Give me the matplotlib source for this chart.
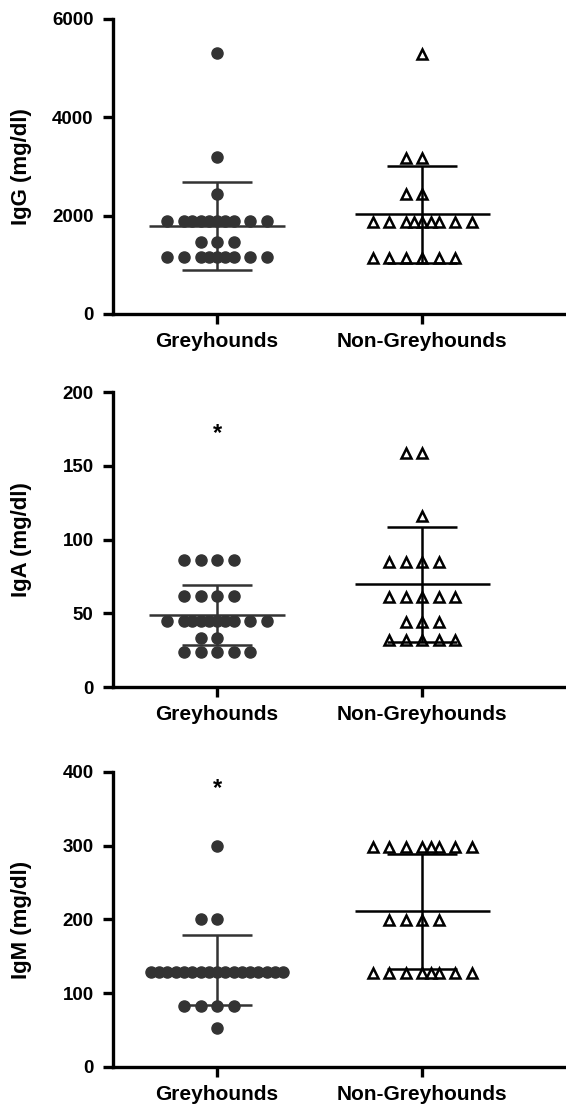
import matplotlib
matplotlib.use('Agg')
import matplotlib.pyplot as plt
import numpy as np

plt.rcParams['font.family'] = ['Liberation Sans', 'DejaVu Sans']
plt.rcParams['font.weight'] = 'bold'

# data (mg/dl)
groups = ['Greyhounds', 'Non-Greyhounds']

igg_grey = [5300, 3200, 2450,
            1900, 1900, 1900, 1900, 1900, 1900, 1900, 1900, 1900, 1900,
            1470, 1470, 1470,
            1150, 1150, 1150, 1150, 1150, 1150, 1150, 1150, 1150]
igg_nongrey = [5280, 3180, 3180, 2430, 2430,
               1870, 1870, 1870, 1870, 1870, 1870, 1870, 1870, 1870,
               1140, 1140, 1140, 1140, 1140, 1140]

iga_grey = [86, 86, 86, 86,
            62, 62, 62, 62,
            44.5, 44.5, 44.5, 44.5, 44.5, 44.5, 44.5, 44.5, 44.5, 44.5,
            33, 33,
            24, 24, 24, 24, 24]
iga_nongrey = [159, 159, 116,
               85, 85, 85, 85,
               61, 61, 61, 61, 61,
               44, 44, 44,
               32, 32, 32, 32, 32]

igm_grey = [300, 200, 200,
            129, 129, 129, 129, 129, 129, 129, 129, 129, 129, 129, 129, 129, 129, 129, 129, 129,
            83, 83, 83, 83,
            53]
igm_nongrey = [298, 298, 298, 298, 298, 298, 298, 298,
               199, 199, 199, 199,
               127, 127, 127, 127, 127, 127, 127, 127]

# mean and SD drawn in the figure
igg_mean = [1785, 2030]
igg_sd = [890, 985]
iga_mean = [49, 69.6]
iga_sd = [20.5, 38.8]
igm_mean = [131.5, 211]
igm_sd = [47, 78]

# significance marks (group index, y value)
iga_star = (0, 172)
igm_star = (0, 377)

ylabels = ['IgG (mg/dl)', 'IgA (mg/dl)', 'IgM (mg/dl)']
ymax = [6000, 200, 400]
ystep = [2000, 50, 100]

# column-scatter slot order (in marker spacings)
SLOTS = [0, -1, 1, -2, 2, -3, 3, 0.5, -0.5, -1.5, 1.5, -2.5, 2.5, -3.5, 3.5, -4, 4]
U = 0.0805


def scatter_x(values, center):
    xs = []
    seen = {}
    for v in values:
        k = seen.get(v, 0)
        seen[v] = k + 1
        xs.append(center + SLOTS[k % len(SLOTS)] * U)
    return np.array(xs)


panels = [
    (igg_grey, igg_nongrey, igg_mean, igg_sd, None),
    (iga_grey, iga_nongrey, iga_mean, iga_sd, iga_star),
    (igm_grey, igm_nongrey, igm_mean, igm_sd, igm_star),
]

fig = plt.figure(figsize=(5.66, 11.09), dpi=100)
bottoms = [0.7169, 0.3805, 0.0379]
height = 0.266

for i, (g, ng, mean, sd, star) in enumerate(panels):
    ax = fig.add_axes([0.1996, bottoms[i], 0.8004, height])
    xg = scatter_x(g, 0)
    xn = scatter_x(ng, 1)
    ax.plot(xg, g, 'o', ms=8, color='#333333', mec='#333333', zorder=3, clip_on=False)
    ax.plot(xn, ng, '^', ms=7.5, mfc='white', mec='black', mew=1.8, zorder=3, clip_on=False)

    cols = ['#333333', 'black']
    for j in range(2):
        ax.hlines(mean[j], j - 0.33, j + 0.33, color=cols[j], lw=1.8, zorder=4)
        ax.hlines([mean[j] - sd[j], mean[j] + sd[j]], j - 0.17, j + 0.17, color=cols[j], lw=1.8, zorder=4)
        ax.vlines(j, mean[j] - sd[j], mean[j] + sd[j], color=cols[j], lw=1.8, zorder=4)

    if star is not None:
        ax.text(star[0], star[1], '*', ha='center', va='center', fontsize=17, fontweight='bold')

    ax.set_xlim(-0.507, 1.70)
    ax.set_ylim(0, ymax[i])
    ax.set_yticks(np.arange(0, ymax[i] + 1, ystep[i]))
    ax.set_xticks([0, 1])
    ax.set_xticklabels(groups, fontsize=15, fontweight='bold')
    ax.tick_params(axis='y', labelsize=13.5, width=2.4, length=7, pad=7)
    ax.tick_params(axis='x', width=2.4, length=7, pad=6)
    for lab in ax.get_yticklabels():
        lab.set_fontweight('bold')
    for s in ['top', 'right']:
        ax.spines[s].set_visible(False)
    for s in ['left', 'bottom']:
        ax.spines[s].set_linewidth(2.4)
    ax.set_ylabel(ylabels[i], fontsize=16, fontweight='bold')
    ax.yaxis.set_label_coords(-0.179, 0.5)

fig.savefig('out.png', dpi=100)
